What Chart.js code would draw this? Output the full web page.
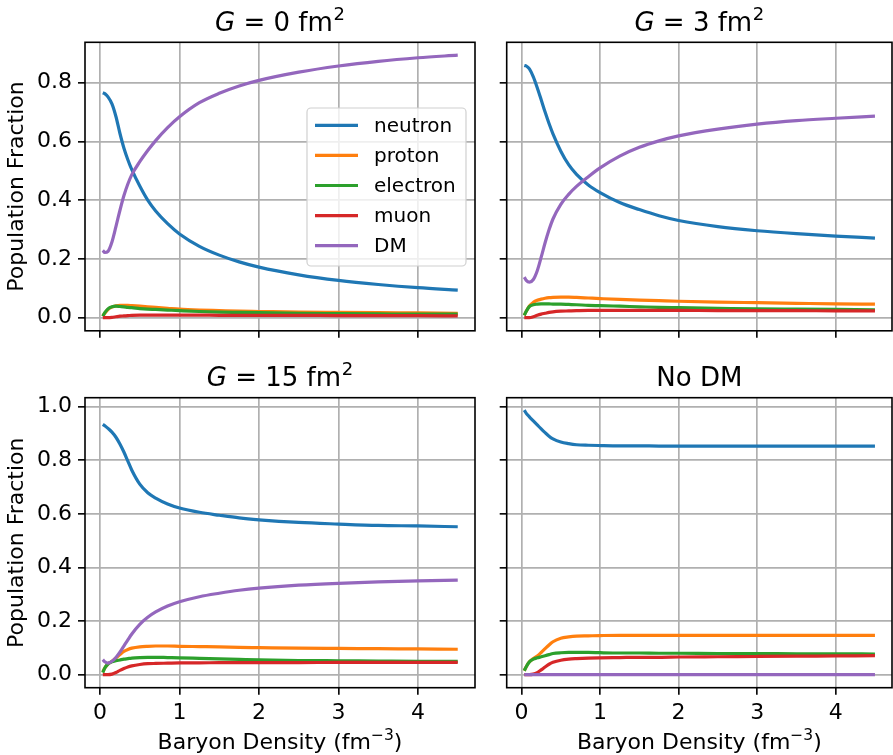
<!DOCTYPE html>
<html>
<head>
<meta charset="utf-8">
<script src="https://cdn.jsdelivr.net/npm/chart.js@4.4.1/dist/chart.umd.min.js"></script>
<style>
  body { margin: 0; background: #fff; }
  #fig { position: relative; width: 893px; height: 755px; overflow: hidden; }
  #fig canvas { position: absolute; }
</style>
</head>
<body>
<div id="fig">
  <canvas id="c0" width="480" height="350" style="left:0;top:0"></canvas>
  <canvas id="c1" width="413" height="350" style="left:480px;top:0"></canvas>
  <canvas id="c2" width="480" height="400" style="left:0;top:355px"></canvas>
  <canvas id="c3" width="413" height="400" style="left:480px;top:355px"></canvas>
</div>
<script>
// baryon density (fm^-3), same grid for every panel
const density = [0.035, 0.06, 0.1, 0.15, 0.2, 0.25, 0.3, 0.35, 0.4, 0.5, 0.6, 0.7, 0.85, 1.0, 1.25, 1.5, 1.75, 2.0, 2.5, 3.0, 3.5, 4.0, 4.5];

// G = 0 fm^2
const neutronG0  = [0.766, 0.763, 0.752, 0.728, 0.685, 0.628, 0.578, 0.538, 0.504, 0.448, 0.400, 0.363, 0.320, 0.285, 0.243, 0.213, 0.190, 0.172, 0.146, 0.127, 0.113, 0.102, 0.094];
const protonG0   = [0.005, 0.015, 0.028, 0.036, 0.040, 0.042, 0.042, 0.042, 0.041, 0.039, 0.037, 0.035, 0.032, 0.029, 0.026, 0.024, 0.022, 0.021, 0.019, 0.018, 0.017, 0.016, 0.015];
const electronG0 = [0.005, 0.017, 0.030, 0.037, 0.039, 0.038, 0.037, 0.035, 0.034, 0.031, 0.029, 0.028, 0.026, 0.024, 0.021, 0.019, 0.018, 0.017, 0.015, 0.014, 0.013, 0.012, 0.012];
const muonG0     = [0, 0, 0, 0.001, 0.003, 0.005, 0.006, 0.007, 0.008, 0.009, 0.009, 0.009, 0.009, 0.009, 0.009, 0.008, 0.008, 0.008, 0.008, 0.007, 0.007, 0.007, 0.006];
const dmG0       = [0.229, 0.222, 0.226, 0.258, 0.310, 0.365, 0.415, 0.455, 0.487, 0.531, 0.569, 0.603, 0.647, 0.684, 0.732, 0.764, 0.789, 0.808, 0.836, 0.857, 0.873, 0.885, 0.894];

// G = 3 fm^2
const neutronG3  = [0.859, 0.857, 0.847, 0.820, 0.783, 0.742, 0.700, 0.661, 0.626, 0.567, 0.521, 0.488, 0.452, 0.426, 0.392, 0.368, 0.347, 0.331, 0.310, 0.296, 0.286, 0.278, 0.271];
const protonG3   = [0.008, 0.022, 0.040, 0.052, 0.059, 0.063, 0.066, 0.068, 0.069, 0.070, 0.070, 0.069, 0.067, 0.065, 0.062, 0.060, 0.058, 0.056, 0.053, 0.051, 0.049, 0.047, 0.046];
const electronG3 = [0.008, 0.022, 0.038, 0.044, 0.046, 0.047, 0.047, 0.047, 0.046, 0.046, 0.045, 0.044, 0.042, 0.041, 0.039, 0.037, 0.035, 0.034, 0.032, 0.030, 0.029, 0.028, 0.027];
const muonG3     = [0, 0, 0, 0.003, 0.008, 0.012, 0.015, 0.018, 0.020, 0.022, 0.023, 0.024, 0.025, 0.025, 0.025, 0.025, 0.025, 0.025, 0.024, 0.024, 0.024, 0.023, 0.023];
const dmG3       = [0.138, 0.127, 0.121, 0.130, 0.160, 0.206, 0.255, 0.299, 0.336, 0.386, 0.420, 0.447, 0.480, 0.510, 0.550, 0.580, 0.602, 0.619, 0.642, 0.659, 0.671, 0.679, 0.686];

// G = 15 fm^2
const neutronG15  = [0.934, 0.929, 0.919, 0.905, 0.886, 0.861, 0.831, 0.797, 0.763, 0.711, 0.679, 0.659, 0.637, 0.622, 0.606, 0.595, 0.585, 0.578, 0.568, 0.562, 0.557, 0.555, 0.552];
const protonG15   = [0.010, 0.025, 0.040, 0.050, 0.062, 0.075, 0.087, 0.094, 0.099, 0.104, 0.106, 0.107, 0.107, 0.106, 0.105, 0.104, 0.102, 0.101, 0.099, 0.098, 0.097, 0.096, 0.095];
const electronG15 = [0.008, 0.025, 0.040, 0.048, 0.052, 0.055, 0.058, 0.060, 0.062, 0.064, 0.065, 0.065, 0.064, 0.063, 0.061, 0.059, 0.057, 0.055, 0.053, 0.052, 0.051, 0.050, 0.050];
const muonG15     = [0, 0, 0, 0.002, 0.008, 0.016, 0.023, 0.029, 0.033, 0.038, 0.041, 0.042, 0.043, 0.044, 0.044, 0.045, 0.045, 0.045, 0.045, 0.046, 0.046, 0.046, 0.046];
const dmG15       = [0.056, 0.048, 0.043, 0.050, 0.064, 0.084, 0.107, 0.130, 0.152, 0.188, 0.214, 0.234, 0.256, 0.272, 0.291, 0.304, 0.315, 0.323, 0.334, 0.341, 0.346, 0.350, 0.353];

// No DM
const neutronNoDM  = [0.987, 0.975, 0.962, 0.947, 0.932, 0.917, 0.903, 0.890, 0.880, 0.868, 0.862, 0.858, 0.856, 0.855, 0.854, 0.854, 0.853, 0.853, 0.853, 0.853, 0.853, 0.853, 0.853];
const protonNoDM   = [0.015, 0.030, 0.048, 0.060, 0.070, 0.083, 0.097, 0.111, 0.123, 0.136, 0.141, 0.144, 0.145, 0.146, 0.147, 0.147, 0.147, 0.147, 0.147, 0.147, 0.147, 0.147, 0.147];
const electronNoDM = [0.015, 0.030, 0.048, 0.058, 0.063, 0.067, 0.071, 0.075, 0.079, 0.082, 0.083, 0.083, 0.083, 0.082, 0.081, 0.081, 0.080, 0.080, 0.079, 0.079, 0.078, 0.078, 0.077];
const muonNoDM     = [0, 0, 0, 0.002, 0.008, 0.018, 0.029, 0.039, 0.046, 0.054, 0.058, 0.060, 0.062, 0.063, 0.064, 0.065, 0.065, 0.066, 0.067, 0.068, 0.069, 0.070, 0.071];
const dmNoDM       = [0, 0, 0, 0, 0, 0, 0, 0, 0, 0, 0, 0, 0, 0, 0, 0, 0, 0, 0, 0, 0, 0, 0];

const names  = ['neutron', 'proton', 'electron', 'muon', 'DM'];
const colors = ['#1f77b4', '#ff7f0e', '#2ca02c', '#d62728', '#9467bd'];

Chart.defaults.font.family = 'DejaVu Sans';
Chart.defaults.color = '#000';

const panels = [
  { id: 'c0', title: ['G', ' = 0 fm', '2'], series: [neutronG0, protonG0, electronG0, muonG0, dmG0],
    yRange: [-0.0447, 0.9377], left: true, bottom: false, legend: true, w: 480, h: 350,
    area: { left: 85, top: 42.3, right: 475, bottom: 331.7 } },
  { id: 'c1', title: ['G', ' = 3 fm', '2'], series: [neutronG3, protonG3, electronG3, muonG3, dmG3],
    yRange: [-0.0447, 0.9377], left: false, bottom: false, legend: false, w: 413, h: 350,
    area: { left: 26.7, top: 42.3, right: 412, bottom: 331.7 } },
  { id: 'c2', title: ['G', ' = 15 fm', '2'], series: [neutronG15, protonG15, electronG15, muonG15, dmG15],
    yRange: [-0.0485, 1.0335], left: true, bottom: true, legend: false, w: 480, h: 400,
    area: { left: 85, top: 42.7, right: 475, bottom: 332.7 } },
  { id: 'c3', title: ['', 'No DM', ''], series: [neutronNoDM, protonNoDM, electronNoDM, muonNoDM, dmNoDM],
    yRange: [-0.0485, 1.0335], left: false, bottom: true, legend: false, w: 413, h: 400,
    area: { left: 26.7, top: 42.7, right: 412, bottom: 332.7 } }
];

// draws a row of [text, font, dy] pieces centred on cx
function drawPieces(ctx, pieces, cx, base) {
  let total = 0;
  pieces.forEach(pc => { ctx.font = pc[1]; total += ctx.measureText(pc[0]).width; });
  let x = cx - total / 2;
  pieces.forEach(pc => {
    ctx.font = pc[1];
    ctx.fillText(pc[0], x, base - pc[2]);
    x += ctx.measureText(pc[0]).width;
  });
}

// frame, titles (italic G + superscripts) and legend drawn on top of the chart
const decorPlugin = {
  id: 'decor',
  afterDraw(chart, args, opts) {
    const ctx = chart.ctx;
    const a = chart.chartArea;
    const cx = (a.left + a.right) / 2;
    ctx.save();
    ctx.strokeStyle = '#000';
    ctx.lineWidth = 1.6;
    ctx.strokeRect(a.left, a.top, a.right - a.left, a.bottom - a.top);

    ctx.fillStyle = '#000';
    ctx.textBaseline = 'alphabetic';
    ctx.textAlign = 'left';
    const [it, mid, sup] = opts.title;
    drawPieces(ctx, [
      [it, 'oblique 26px "DejaVu Sans"', 0],
      [mid, '26px "DejaVu Sans"', 0],
      [sup ? ' ' : '', '2px "DejaVu Sans"', 0],
      [sup, '18px "DejaVu Sans"', 11]
    ], cx, 31);

    if (opts.xTitle) {
      drawPieces(ctx, [
        ['Baryon Density (fm', '22px "DejaVu Sans"', 0],
        ['\u22123', '15.5px "DejaVu Sans"', 9.5],
        [')', '22px "DejaVu Sans"', 0]
      ], cx, a.bottom + 61.5);
    }

    if (opts.legend) {
      const bx = 307, by = 108, bw = 159, bh = 158;
      ctx.beginPath();
      ctx.roundRect(bx, by, bw, bh, 4);
      ctx.fillStyle = 'rgba(255,255,255,0.8)';
      ctx.fill();
      ctx.strokeStyle = '#d0d0d0';
      ctx.lineWidth = 1.2;
      ctx.stroke();
      ctx.font = '20px "DejaVu Sans"';
      ctx.textBaseline = 'middle';
      names.forEach((n, i) => {
        const y = 125.3 + i * 30.1;
        ctx.strokeStyle = colors[i];
        ctx.lineWidth = 3.2;
        ctx.beginPath();
        ctx.moveTo(315, y);
        ctx.lineTo(358, y);
        ctx.stroke();
        ctx.fillStyle = '#000';
        ctx.fillText(n, 374, y + 1);
      });
    }
    ctx.restore();
  }
};

panels.forEach(p => {
  const datasets = p.series.map((vals, i) => ({
    label: names[i],
    data: density.map((x, k) => ({ x: x, y: vals[k] })),
    borderColor: colors[i],
    backgroundColor: colors[i],
    borderWidth: 3.2,
    pointRadius: 0,
    fill: false,
    cubicInterpolationMode: 'monotone',
    order: names.length - i
  }));

  new Chart(document.getElementById(p.id), {
    type: 'line',
    data: { datasets: datasets },
    plugins: [decorPlugin],
    options: {
      responsive: false,
      animation: false,
      devicePixelRatio: 1,
      layout: { padding: { left: 0, top: p.area.top, right: p.w - p.area.right, bottom: 0 } },
      plugins: {
        legend: { display: false },
        tooltip: { enabled: false },
        decor: { title: p.title, legend: p.legend, xTitle: p.bottom }
      },
      scales: {
        x: {
          type: 'linear',
          min: -0.189,
          max: 4.717,
          ticks: {
            stepSize: 1,
            includeBounds: false,
            autoSkip: false,
            maxRotation: 0,
            padding: 5,
            font: { size: 22 },
            color: '#000',
            callback: v => p.bottom ? Number(v).toFixed(0) : ''
          },
          grid: { color: '#b0b0b0', lineWidth: 1.7, tickColor: '#000', tickLength: 7, tickWidth: 1.6 },
          border: { display: false },
          afterFit: s => { s.height = p.h - p.area.bottom; }
        },
        y: {
          type: 'linear',
          min: p.yRange[0],
          max: p.yRange[1],
          ticks: {
            stepSize: 0.2,
            includeBounds: false,
            autoSkip: false,
            padding: 6,
            font: { size: 22 },
            color: '#000',
            callback: v => p.left ? Number(v).toFixed(1) : ''
          },
          grid: { color: '#b0b0b0', lineWidth: 1.7, tickColor: '#000', tickLength: 7, tickWidth: 1.6 },
          border: { display: false },
          title: {
            display: p.left,
            text: 'Population Fraction',
            font: { size: 22 },
            color: '#000',
            padding: { top: 4, bottom: 0 }
          },
          afterFit: s => { s.width = p.area.left; }
        }
      }
    }
  });
});
</script>
</body>
</html>
